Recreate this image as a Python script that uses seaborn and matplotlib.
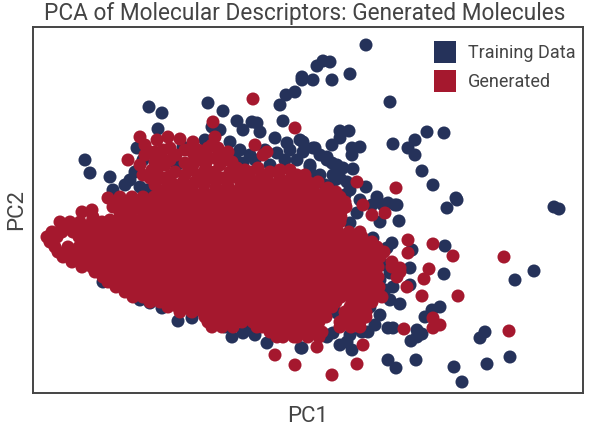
import matplotlib
matplotlib.use("Agg")
import matplotlib.pyplot as plt
import seaborn as sns
import pandas as pd
from matplotlib.lines import Line2D

# values, the axes have no ticks so units are arbitrary
series_names = ["Training Data", "Generated"]
series_colors = ["#25325a", "#a5182e"]

train_points = [
    (366, 45), (350, 74), (332, 80), (313, 80), (302, 77), (317, 66), (323, 61), (330, 62), (302, 80), (295, 92),
    (286, 95), (280, 105), (283, 121), (390, 102), (427, 132), (444, 133), (415, 140), (408, 148), (415, 155),
    (393, 144), (422, 171), (433, 185), (456, 198), (447, 208), (554, 207), (559, 209), (340, 131), (349, 131),
    (340, 138), (332, 145), (315, 148), (352, 148), (360, 147), (352, 155), (327, 157), (332, 163), (337, 165),
    (343, 168), (353, 169), (310, 165), (312, 175), (333, 175), (347, 182), (340, 178), (325, 185), (350, 190),
    (366, 187), (377, 197), (388, 203), (397, 205), (303, 142), (303, 152), (395, 205), (383, 205), (380, 222),
    (399, 221), (457, 200), (350, 223), (357, 213), (345, 205), (373, 238), (392, 243), (387, 248), (412, 250),
    (445, 246), (410, 268), (444, 274), (534, 271), (515, 280), (368, 260), (390, 273), (380, 280), (393, 287),
    (410, 285), (400, 304), (390, 300), (380, 315), (370, 307), (440, 307), (432, 310), (425, 317), (388, 328),
    (393, 328), (417, 330), (422, 334), (417, 337), (411, 341), (368, 332), (362, 332), (347, 342), (352, 350),
    (333, 333), (337, 313), (327, 335), (302, 348), (388, 360), (396, 368), (416, 360), (454, 367), (462, 382),
    (485, 332), (480, 338), (487, 364), (510, 357), (149, 107), (162, 113), (158, 129), (208, 103), (223, 111),
    (237, 121), (243, 130), (252, 122), (257, 123), (260, 132), (85, 160), (90, 173), (110, 177), (113, 190),
    (103, 282), (137, 148), (212, 127), (220, 130), (130, 180), (140, 187), (147, 190), (125, 185), (135, 172),
    (143, 160), (177, 165), (183, 147), (205, 140), (230, 142), (240, 150), (243, 163), (250, 155), (275, 138),
    (287, 143), (300, 140), (313, 148), (277, 153), (297, 160), (310, 167), (327, 160), (265, 150), (285, 160),
    (270, 165), (320, 175), (140, 300), (150, 303), (162, 308), (178, 321), (192, 318), (225, 327), (232, 337),
    (243, 333), (250, 330), (267, 343), (301, 348), (327, 337), (255, 335), (235, 155), (255, 160), (290, 150),
    (320, 155), (335, 180), (345, 195), (360, 200), (372, 205), (355, 235), (365, 245), (378, 255), (385, 265),
    (372, 290), (385, 290), (375, 325), (350, 335), (340, 345), (355, 322),
]

gen_sparse_points = [
    (253, 99), (213, 122), (295, 128), (357, 182), (396, 188), (504, 257), (509, 331), (433, 318), (440, 325),
    (433, 328), (404, 329), (275, 355), (295, 365), (363, 345), (357, 364), (332, 375), (408, 240), (408, 253),
    (433, 244), (453, 256), (429, 269), (424, 279), (407, 287), (422, 296), (458, 296), (385, 213), (372, 215),
    (363, 205), (392, 262), (400, 268), (82, 212), (92, 210), (93, 217), (108, 198), (145, 145), (157, 140),
    (168, 137), (180, 139), (193, 142), (215, 137), (150, 152), (163, 150), (176, 155), (193, 153), (205, 155),
    (218, 148), (228, 152), (255, 145), (263, 155), (267, 152), (128, 160), (140, 165), (155, 162), (165, 165),
    (193, 165), (206, 163), (220, 165), (237, 168), (280, 170), (250, 172), (143, 175), (157, 172), (170, 176),
    (185, 175), (198, 175), (210, 172), (222, 178), (238, 178), (250, 178), (262, 175), (280, 178), (297, 175),
    (290, 180), (308, 182), (155, 185), (167, 187), (180, 186), (192, 187), (204, 185), (216, 187), (228, 186),
    (240, 188), (252, 187), (264, 188), (276, 186), (288, 188), (300, 186), (313, 188), (328, 188), (317, 347),
    (277, 337), (297, 337), (257, 327), (145, 155), (155, 152), (170, 148), (185, 150), (198, 150), (212, 145),
    (225, 160), (215, 158), (200, 160), (185, 163), (175, 172), (165, 178), (152, 170), (190, 170), (205, 180),
    (215, 180), (230, 172), (245, 170), (258, 168), (270, 172), (290, 170), (305, 175), (318, 182), (335, 195),
    (110, 220), (118, 208), (140, 137), (160, 158), (170, 160), (195, 158), (208, 148), (222, 155), (232, 162),
    (205, 170), (215, 172), (228, 180), (240, 180), (195, 182), (183, 182), (172, 183), (160, 178), (150, 178),
    (256, 182), (268, 181), (282, 183), (295, 182), (245, 182), (302, 192),
]

# dense core of the generated cloud, pc1 values per pc2 level
gen_core_rows = {
    192: [160, 171, 182, 193, 204, 215, 226, 237, 248, 259, 270, 281, 292, 303, 314, 325, 336],
    197: [120, 132, 143, 154, 165, 176, 187, 198, 209, 220, 231, 242, 253, 264, 275, 286, 297, 308, 319, 330, 340],
    202: [114, 126, 138, 149, 160, 171, 182, 193, 204, 215, 226, 237, 248, 259, 270, 281, 292, 303, 314, 325, 336, 345],
    207: [113, 126, 137, 148, 160, 171, 182, 193, 204, 215, 226, 237, 248, 259, 270, 281, 292, 303, 314, 325, 336, 346],
    212: [120, 131, 143, 154, 165, 176, 187, 198, 209, 220, 231, 242, 253, 264, 275, 286, 297, 308, 319, 330, 341],
    217: [120, 131, 143, 154, 165, 176, 187, 198, 209, 220, 231, 242, 253, 264, 275, 286, 297, 308, 319, 330, 341],
    222: [60, 70, 80, 92, 102, 112, 122, 132, 142, 153, 165, 176, 187, 198, 209, 220, 231, 242, 253, 264, 275, 286, 297, 308, 319, 330, 340],
    227: [62, 73, 84, 95, 106, 115, 126, 137, 148, 160, 171, 182, 193, 204, 215, 226, 237, 248, 259, 270, 281, 292, 303, 314, 325, 336],
    232: [52, 62, 73, 84, 95, 106, 118, 129, 140, 151, 162, 173, 184, 195, 206, 217, 228, 239, 250, 261, 272, 283, 294, 305, 316, 327, 338, 349, 360],
    237: [47, 57, 79, 90, 101, 112, 123, 134, 145, 156, 167, 178, 189, 200, 211, 222, 233, 244, 255, 266, 277, 288, 299, 310, 321, 332, 343, 355, 362],
    242: [50, 84, 95, 106, 117, 128, 139, 150, 161, 172, 183, 194, 205, 216, 227, 238, 249, 260, 271, 282, 293, 304, 315, 326, 337, 348, 359, 372],
    247: [55, 68, 79, 90, 101, 112, 123, 134, 145, 156, 167, 178, 189, 200, 211, 222, 233, 244, 255, 266, 277, 288, 299, 310, 321, 332, 343, 354, 365, 377],
    252: [58, 68, 79, 90, 101, 112, 123, 134, 145, 156, 167, 178, 189, 200, 211, 222, 233, 244, 255, 266, 277, 288, 299, 310, 321, 332, 343, 354, 365, 376, 384],
    257: [63, 74, 85, 96, 107, 118, 129, 140, 151, 162, 173, 184, 195, 206, 217, 228, 239, 250, 261, 272, 283, 294, 305, 316, 327, 338, 349, 360, 371, 380],
    262: [72, 82, 93, 104, 115, 126, 137, 148, 159, 170, 181, 192, 203, 214, 225, 236, 247, 258, 269, 280, 291, 302, 313, 324, 335, 346, 357, 366, 376],
    267: [82, 92, 103, 114, 125, 136, 147, 158, 169, 180, 191, 202, 213, 224, 235, 246, 257, 268, 279, 290, 301, 312, 323, 334, 345, 356, 367, 378, 392],
    272: [95, 108, 119, 130, 141, 152, 163, 174, 185, 196, 207, 218, 229, 240, 251, 262, 273, 284, 295, 306, 317, 328, 339, 350, 361, 372, 400],
    277: [103, 114, 125, 136, 147, 158, 169, 180, 191, 202, 213, 224, 235, 246, 257, 268, 279, 290, 301, 312, 323, 334, 345, 356, 367, 378, 397],
    282: [108, 120, 131, 142, 153, 164, 175, 186, 197, 208, 219, 230, 241, 252, 263, 274, 285, 296, 307, 318, 329, 340, 351, 362, 373],
    287: [116, 126, 137, 148, 159, 170, 181, 192, 203, 214, 225, 236, 247, 258, 269, 280, 291, 302, 313, 324, 335, 346, 357, 368, 379],
    292: [125, 136, 147, 158, 169, 180, 191, 202, 213, 224, 235, 246, 257, 268, 279, 290, 301, 312, 323, 334, 345, 356, 367, 378],
    297: [133, 143, 154, 165, 176, 187, 198, 209, 220, 231, 242, 253, 264, 275, 286, 297, 308, 319, 330, 341, 352, 363, 374, 382],
    302: [150, 160, 171, 182, 193, 204, 215, 226, 237, 248, 259, 270, 281, 292, 303, 314, 325, 336, 352, 362, 372],
    307: [168, 178, 189, 200, 211, 222, 233, 244, 255, 266, 277, 288, 299, 310, 321, 332, 350, 361],
    312: [180, 192, 203, 214, 225, 236, 247, 258, 269, 280, 291, 302, 313, 324, 345, 356, 366],
    317: [205, 216, 227, 238, 249, 260, 271, 282, 293, 304, 315, 326, 345, 356, 366],
    322: [208, 220, 231, 242, 253, 264, 275, 286, 297, 308, 319, 340, 351, 360],
    327: [212, 222, 233, 262, 273, 284, 295, 306, 317, 340, 351, 360],
    332: [270, 280, 291, 302, 313, 322],
    337: [283, 294, 308, 319],
}

train_pc1, train_pc2 = zip(*train_points)
sparse_pc1, sparse_pc2 = zip(*gen_sparse_points)

gen_pc1 = list(sparse_pc1)
gen_pc2 = list(sparse_pc2)
for level, row in gen_core_rows.items():
    gen_pc1 += row
    gen_pc2 += [level] * len(row)

df = pd.concat([
    pd.DataFrame({"PC1": train_pc1, "PC2": train_pc2, "set": series_names[0]}),
    pd.DataFrame({"PC1": gen_pc1, "PC2": gen_pc2, "set": series_names[1]}),
], ignore_index=True)

sns.set_style("white")
plt.rcParams["font.family"] = ["Roboto", "DejaVu Sans"]
text_color = "#444444"

fig = plt.figure(figsize=(5.98, 4.32), dpi=100)
ax = fig.add_axes([33 / 598, 1 - 393 / 432, 550 / 598, 366 / 432])

sns.scatterplot(data=df, x="PC1", y="PC2", hue="set", hue_order=series_names, palette=series_colors,
                s=88, linewidth=0, legend=False, ax=ax)

ax.set_xlim(33, 583)
ax.set_ylim(393, 27)
ax.set_xticks([])
ax.set_yticks([])
ax.set_xlabel("PC1", fontsize=16, color=text_color, labelpad=9)
ax.set_ylabel("PC2", fontsize=16, color=text_color, labelpad=4)
ax.set_title("PCA of Molecular Descriptors: Generated Molecules", fontsize=16.3, color=text_color, pad=5, x=0.494)

for spine in ax.spines.values():
    spine.set_color("#444444")
    spine.set_linewidth(1.4)

handles = [Line2D([], [], linestyle="none", marker="s", markersize=16.5, markeredgewidth=0, color=c)
           for c in series_colors]
ax.legend(handles, series_names, loc="upper right", bbox_to_anchor=(1.008, 0.985), frameon=False, fontsize=13,
          labelcolor=text_color, handletextpad=0.25, labelspacing=0.6, borderaxespad=0.25)

fig.savefig("out.png", dpi=100)
